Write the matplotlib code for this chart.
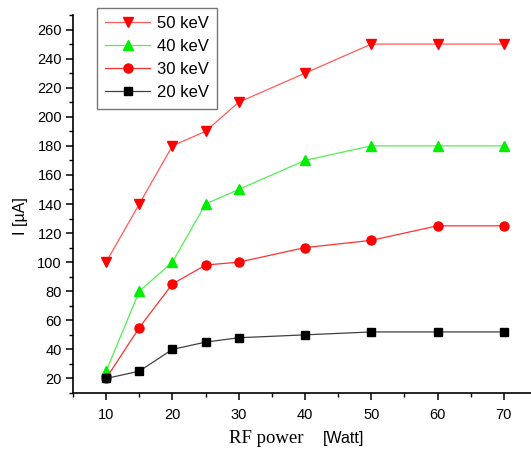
import matplotlib
matplotlib.use('Agg')
import matplotlib.pyplot as plt
from matplotlib.ticker import MultipleLocator

power = [10, 15, 20, 25, 30, 40, 50, 60, 70]  # Watt
i_50kev = [100, 140, 180, 190, 210, 230, 250, 250, 250]  # uA
i_40kev = [25, 80, 100, 140, 150, 170, 180, 180, 180]
i_30kev = [20, 55, 85, 98, 100, 110, 115, 125, 125]
i_20kev = [20, 25, 40, 45, 48, 50, 52, 52, 52]

plt.rcParams['font.family'] = ['Liberation Sans', 'DejaVu Sans']

fig = plt.figure(figsize=(5.31, 4.55), dpi=100)
ax = fig.add_axes([73 / 531, 1 - 393 / 455, 464 / 531, 378 / 455])

ax.plot(power, i_50kev, color='#ff5a5a', lw=0.9, marker='v', ms=6.5, mfc='red', mec='red', label='50 keV')
ax.plot(power, i_40kev, color='#50f050', lw=0.9, marker='^', ms=6.5, mfc='#00ee00', mec='#00ee00', label='40 keV')
ax.plot(power, i_30kev, color='#ff3030', lw=0.9, marker='o', ms=6.5, mfc='red', mec='red', label='30 keV')
ax.plot(power, i_20kev, color='#404040', lw=0.9, marker='s', ms=5.5, mfc='black', mec='black', label='20 keV')

ax.set_xlim(5, 75)
ax.set_ylim(10, 270)
ax.xaxis.set_major_locator(MultipleLocator(10))
ax.xaxis.set_minor_locator(MultipleLocator(5))
ax.yaxis.set_major_locator(MultipleLocator(20))
ax.yaxis.set_minor_locator(MultipleLocator(10))
ax.spines['top'].set_visible(False)
ax.spines['right'].set_visible(False)
ax.spines['left'].set_linewidth(1.2)
ax.spines['bottom'].set_linewidth(1.2)
ax.tick_params(which='major', direction='out', length=5, width=1.1, labelsize=10.5, colors='black')
ax.tick_params(axis='x', which='major', pad=6)
ax.tick_params(axis='y', which='major', pad=3)
ax.tick_params(which='minor', direction='out', length=3, width=1.0)

ax.set_ylabel('I [µA]', fontsize=11.5)
ax.yaxis.set_label_coords(-0.097, 0.468)
fig.text(229 / 531, 1 - 443 / 455, 'RF power', fontsize=13.5, family='Liberation Serif', ha='left', va='baseline')
fig.text(323 / 531, 1 - 443 / 455, '[Watt]', fontsize=11.5, family='Liberation Sans', ha='left', va='baseline')

leg = ax.legend(loc='upper left', bbox_to_anchor=(97 / 531, 1 - 8 / 455), bbox_transform=fig.transFigure,
                fontsize=12, frameon=True, fancybox=False, edgecolor='#555555', handlelength=2.7,
                borderpad=0.5, labelspacing=0.48, handletextpad=0.4, borderaxespad=0)
leg.get_frame().set_linewidth(1.0)

fig.savefig('out.png', dpi=100)
